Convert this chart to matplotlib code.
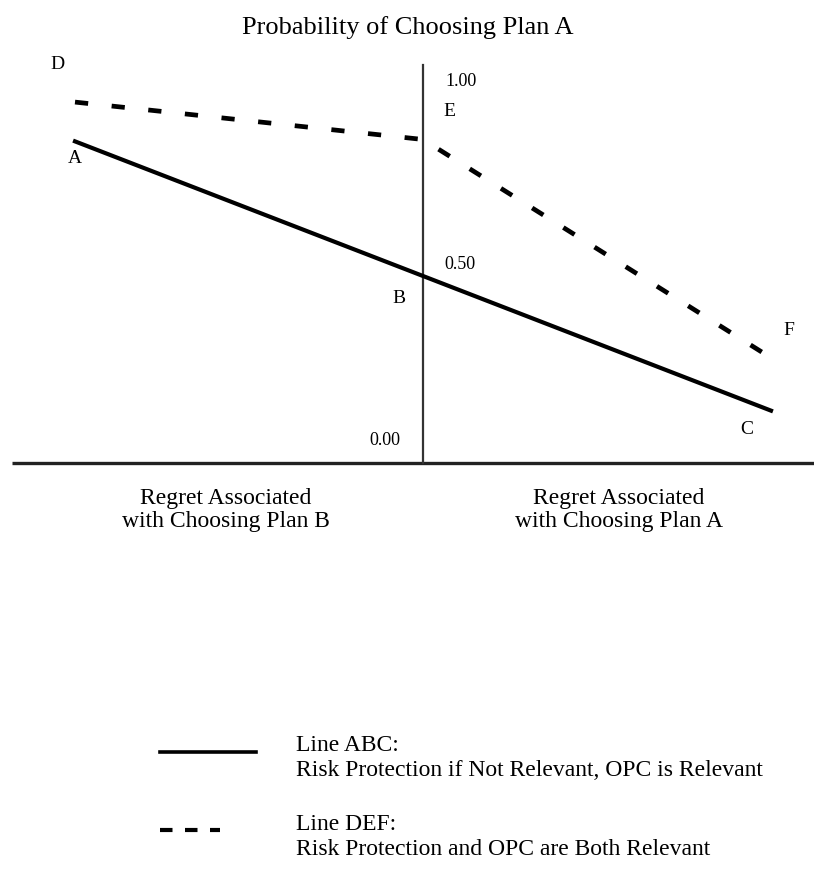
import matplotlib.pyplot as plt

# regret axis: -1 = regret of choosing plan B, +1 = regret of choosing plan A
regret_x = [-1.0, 0.0, 1.0]
abc_prob = [0.86, 0.50, 0.14]
def_x = [-1.0, 0.0, 0.985]
def_prob = [0.965, 0.865, 0.29]
tick_vals = [0.0, 0.5, 1.0]
tick_labels = ["0.00", "0.50", "1.00"]
abc_names = ["A", "B", "C"]
def_names = ["D", "E", "F"]

plt.rcParams['font.family'] = ['Liberation Serif', 'DejaVu Serif']

fig = plt.figure(figsize=(8.14, 8.96), dpi=100)
ax = fig.add_axes([0, 0, 1, 1])
# pixel layout: origin at (423, 463), 348 px per regret unit, 374 px per prob unit
ax.set_xlim(-423 / 348, (814 - 423) / 348)
ax.set_ylim((463 - 896) / 374, 463 / 374)
ax.axis('off')

# axes lines
ax.plot([-411 / 348, 391 / 348], [0, 0], color='#222222', lw=2.4, solid_capstyle='butt')
ax.plot([0, 0], [0, 1.065], color='#333333', lw=1.6)

ax.plot(regret_x, abc_prob, color='black', lw=3.0)
ax.plot(def_x, def_prob, color='black', lw=3.4, linestyle=(0, (2.8, 5.0)))

# tick labels on the vertical axis
ax.text(0.065, tick_vals[2] + 0.02, tick_labels[2], fontsize=13, ha='left', va='center')
ax.text(0.06, tick_vals[1] + 0.03, tick_labels[1], fontsize=13, ha='left', va='center')
ax.text(-0.11, tick_vals[0] + 0.06, tick_labels[0], fontsize=13, ha='center', va='center')

# point labels
lab_off = {"A": (0.0, -0.045), "B": (-0.07, -0.06), "C": (-0.07, -0.05),
           "D": (-0.05, 0.10), "E": (0.075, 0.075), "F": (0.065, 0.065)}
for x, y, n in zip(regret_x, abc_prob, abc_names):
    dx, dy = lab_off[n]
    ax.text(x + dx, y + dy, n, fontsize=14, ha='center', va='center')
for x, y, n in zip(def_x, def_prob, def_names):
    dx, dy = lab_off[n]
    ax.text(x + dx, y + dy, n, fontsize=14, ha='center', va='center')

fig.text(408 / 814, 1 - 28 / 896, "Probability of Choosing Plan A", fontsize=19,
         ha='center', va='center')
fig.text(226 / 814, 1 - 510 / 896, "Regret Associated\nwith Choosing Plan B", fontsize=17,
         ha='center', va='center', linespacing=1.15)
fig.text(619 / 814, 1 - 510 / 896, "Regret Associated\nwith Choosing Plan A", fontsize=17,
         ha='center', va='center', linespacing=1.15)

# legend drawn by hand
fig.add_artist(plt.Line2D([160 / 814, 256 / 814], [1 - 752 / 896] * 2, color='black', lw=2.6))
fig.add_artist(plt.Line2D([160 / 814, 220 / 814], [1 - 830 / 896] * 2, color='black', lw=3.0,
                          linestyle=(0, (3.0, 3.0))))
fig.text(296 / 814, 1 - 745 / 896, "Line ABC:", fontsize=17, ha='left', va='center')
fig.text(296 / 814, 1 - 770 / 896, "Risk Protection if Not Relevant, OPC is Relevant",
         fontsize=17, ha='left', va='center')
fig.text(296 / 814, 1 - 824 / 896, "Line DEF:", fontsize=17, ha='left', va='center')
fig.text(296 / 814, 1 - 849 / 896, "Risk Protection and OPC are Both Relevant",
         fontsize=17, ha='left', va='center')

plt.savefig("out.png", dpi=100)
